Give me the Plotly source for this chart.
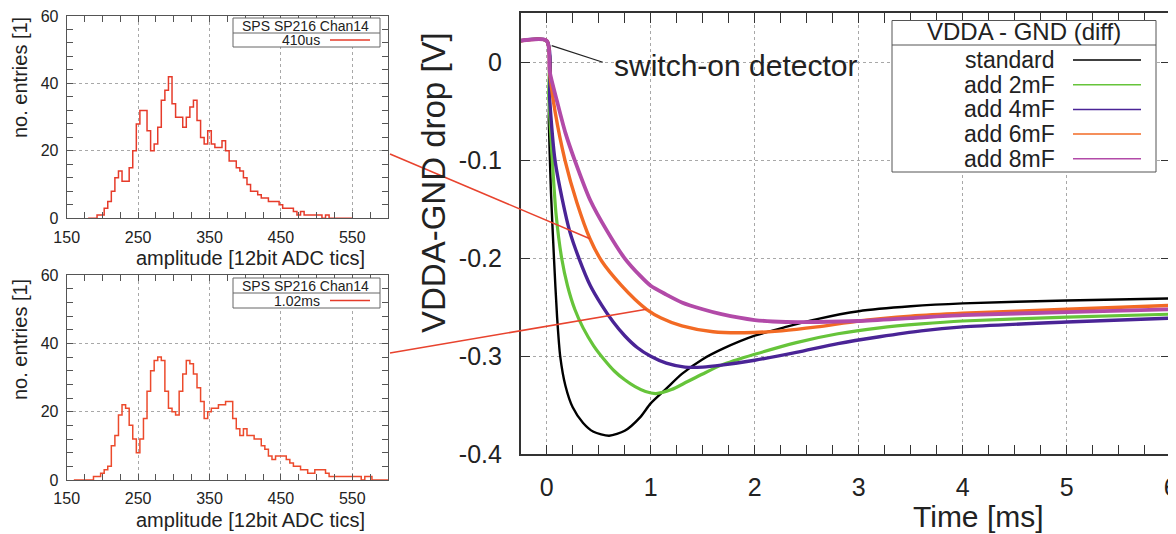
import plotly.graph_objects as go

# window size and the page's default body margin (the figure is drawn offset by it)
W, H = 1176, 534
OFF = 8
FW, FH = W - OFF, H - OFF

# ---------------- histogram data (amplitude bin centres, counts) ----------------
amp_top = list(range(180, 555, 5))
cnt_top = [0, 0, 0, 1, 1, 3, 5, 8, 12, 14, 11, 11, 15, 20, 28, 32, 32, 26, 20, 22,
           27, 35, 38, 42, 34, 30, 30, 27, 30, 33, 35, 29, 24, 22, 26, 22, 21, 21, 23, 20,
           17, 17, 15, 14, 12, 10, 8, 8, 7, 6, 6, 5, 5, 5, 4, 3, 3, 3, 2, 1,
           2, 1, 1, 1, 1, 1, 0, 1, 0, 0, 0, 0, 0, 0, 0]
amp_bot = list(range(160, 605, 5))
cnt_bot = [0, 0, 0, 0, 0, 0, 1, 1, 2, 3, 4, 10, 13, 19, 22, 21, 16, 12, 8, 12,
           18, 26, 32, 35, 36, 35, 26, 21, 20, 19, 26, 31, 35, 34, 31, 27, 23, 18, 20, 21,
           21, 22, 22, 23, 23, 18, 15, 13, 15, 13, 13, 12, 12, 10, 9, 7, 6, 7, 7, 7,
           6, 5, 4, 4, 3, 3, 2, 2, 3, 3, 3, 2, 1, 1, 1, 1, 1, 1, 1, 1,
           1, 0, 1, 1, 0, 0, 0, 0, 0]
hist_labels = ["410us", "1.02ms"]
hist_title = "SPS SP216 Chan14"

# ---------------- main chart data: time [ms], VDDA-GND drop [V] ----------------
series_names = ["standard", "add 2mF", "add 4mF", "add 6mF", "add 8mF"]
series_colors = ["#000000", "#66c43a", "#4a2496", "#f26a24", "#b24aa8"]

t_std = [-0.25, 0.0, 0.02, 0.04, 0.07, 0.1, 0.13, 0.18, 0.25, 0.35, 0.45, 0.6, 0.75, 0.9,
         1.0, 1.15, 1.3, 1.5, 1.7, 2.0, 2.3, 2.6, 3.0, 3.5, 4.0, 5.0, 6.0]
v_std = [0.022, 0.021, -0.06, -0.13, -0.2, -0.26, -0.3, -0.33, -0.352, -0.368, -0.377, -0.381,
         -0.376, -0.362, -0.348, -0.333, -0.318, -0.303, -0.292, -0.279, -0.27, -0.262,
         -0.254, -0.249, -0.246, -0.243, -0.241]

t_2mf = [-0.25, 0.0, 0.02, 0.054, 0.09, 0.144, 0.2, 0.27, 0.35, 0.45, 0.55, 0.65, 0.75, 0.85,
         0.95, 1.05, 1.2, 1.35, 1.5, 1.68, 2.0, 2.4, 2.8, 3.2, 3.6, 4.0, 5.0, 6.0]
v_2mf = [0.022, 0.022, -0.035, -0.1, -0.155, -0.2, -0.228, -0.252, -0.271, -0.289, -0.303,
         -0.315, -0.324, -0.331, -0.336, -0.338, -0.334, -0.326, -0.318, -0.309, -0.298,
         -0.286, -0.277, -0.271, -0.267, -0.264, -0.26, -0.257]

t_4mf = [-0.25, 0.0, 0.03, 0.08, 0.15, 0.22, 0.31, 0.42, 0.53, 0.64, 0.75, 0.87, 1.0, 1.15,
         1.33, 1.5, 1.68, 2.0, 2.4, 2.8, 3.2, 3.6, 4.0, 5.0, 6.0]
v_4mf = [0.022, 0.022, -0.04, -0.1, -0.14, -0.172, -0.2, -0.228, -0.248, -0.265, -0.279,
         -0.291, -0.3, -0.307, -0.311, -0.311, -0.309, -0.304, -0.296, -0.287, -0.28,
         -0.274, -0.27, -0.265, -0.261]

t_6mf = [-0.25, 0.0, 0.03, 0.08, 0.176, 0.29, 0.416, 0.53, 0.72, 0.85, 0.96, 1.1, 1.3, 1.6,
         1.9, 2.26, 2.6, 3.0, 3.5, 4.0, 5.0, 6.0]
v_6mf = [0.022, 0.022, -0.012, -0.05, -0.1, -0.143, -0.18, -0.203, -0.228, -0.242, -0.252,
         -0.261, -0.269, -0.275, -0.276, -0.274, -0.27, -0.264, -0.259, -0.256, -0.252, -0.248]

t_8mf = [-0.25, 0.0, 0.03, 0.1, 0.18, 0.27, 0.42, 0.58, 0.75, 0.9, 1.0, 1.15, 1.3, 1.5, 1.68,
         2.0, 2.3, 2.6, 3.0, 3.5, 4.0, 5.0, 6.0]
v_8mf = [0.022, 0.022, -0.01, -0.04, -0.072, -0.1, -0.141, -0.172, -0.2, -0.218, -0.228,
         -0.237, -0.245, -0.252, -0.257, -0.263, -0.265, -0.265, -0.264, -0.261, -0.258,
         -0.255, -0.252]

series_t = [t_std, t_2mf, t_4mf, t_6mf, t_8mf]
series_v = [v_std, v_2mf, v_4mf, v_6mf, v_8mf]
series_w = [2.4, 3.2, 3.4, 3.4, 3.8]

x_ticks = [0, 1, 2, 3, 4, 5, 6]
y_ticks = [-0.4, -0.3, -0.2, -0.1, 0.0]
y_ticktext = ["-0.4", "-0.3", "-0.2", "-0.1", "0"]
hist_xticks = [150, 250, 350, 450, 550]

# ---------------- layout helpers (window pixels -> paper fractions) ----------------
def px(x):
    return (x - OFF) / FW


def py(y):
    return 1 - (y - OFF) / FH


FONT = "Arial, Liberation Sans, sans-serif"
HIST_RED = "#e63b2a"
LINK_RED = "#e8432e"

top_dom_x = [px(66.7), px(388)]
top_dom_y = [py(218.3), py(16)]
bot_dom_y = [py(480), py(275)]
main_dom_x = [px(520.7), px(1170.7)]
main_dom_y = [py(454.3), py(13.3)]
main_xr = [-0.25, 6]
main_yr = [-0.4, 0.05]

fig = go.Figure()

fig.add_trace(go.Scatter(x=amp_top, y=cnt_top, mode="lines", xaxis="x", yaxis="y",
                         line=dict(shape="hvh", color=HIST_RED, width=1.5), showlegend=False))
fig.add_trace(go.Scatter(x=amp_bot, y=cnt_bot, mode="lines", xaxis="x2", yaxis="y2",
                         line=dict(shape="hvh", color="#ec4a2c", width=1.5), showlegend=False))

for name, tt, vv, col, w in zip(series_names, series_t, series_v, series_colors, series_w):
    fig.add_trace(go.Scatter(x=tt, y=vv, mode="lines", name=name, xaxis="x3", yaxis="y3",
                             line=dict(color=col, width=w, shape="spline", smoothing=0.7),
                             showlegend=False))

grid = dict(showgrid=True, gridcolor="#a8a8a8", griddash="dot", gridwidth=1, zeroline=False,
            automargin=False, ticklabeloverflow="allow")


def hist_x(anchor, dom):
    return dict(domain=dom, anchor=anchor, range=[150, 600], tickvals=hist_xticks,
                ticks="inside", ticklen=6, tickcolor="#555",
                minor=dict(dtick=25, tick0=150, ticks="inside", ticklen=6, tickcolor="#555", showgrid=False),
                showline=True, linecolor="#555", linewidth=1, mirror="ticks",
                tickfont=dict(family=FONT, size=16, color="#222"), ticklabelstandoff=4, **grid)


def hist_y(anchor, dom):
    return dict(domain=dom, anchor=anchor, range=[0, 60], tickvals=[0, 20, 40, 60],
                ticks="inside", ticklen=6, tickcolor="#555",
                minor=dict(dtick=4, tick0=0, ticks="inside", ticklen=6, tickcolor="#555", showgrid=False),
                showline=True, linecolor="#555", linewidth=1, mirror="ticks",
                tickfont=dict(family=FONT, size=16, color="#222"), ticklabelstandoff=4, **grid)


fig.update_layout(
    width=FW, height=FH, margin=dict(l=0, r=0, t=0, b=0, autoexpand=False),
    paper_bgcolor="white", plot_bgcolor="white",
    font=dict(family=FONT, color="#222"),
    xaxis=hist_x("y", top_dom_x),
    yaxis=hist_y("x", top_dom_y),
    xaxis2=hist_x("y2", top_dom_x),
    yaxis2=hist_y("x2", bot_dom_y),
    xaxis3=dict(domain=main_dom_x, anchor="y3", range=main_xr, tickvals=x_ticks,
                ticks="inside", ticklen=10, tickcolor="#333",
                minor=dict(dtick=0.25, tick0=0, ticks="inside", ticklen=10, tickcolor="#333", showgrid=False),
                showline=True, linecolor="#333", linewidth=1.5, mirror="ticks",
                tickfont=dict(family=FONT, size=25, color="#222"), ticklabelstandoff=10, **grid),
    yaxis3=dict(domain=main_dom_y, anchor="x3", range=main_yr, tickvals=y_ticks, ticktext=y_ticktext,
                ticks="inside", ticklen=10, tickcolor="#333",
                showline=True, linecolor="#333", linewidth=1.5, mirror="ticks",
                tickfont=dict(family=FONT, size=25, color="#222"), ticklabelstandoff=12, **grid),
)

ann = []
shapes = []


def text(x, y, s, size, xanchor="center", yanchor="middle", angle=0, color="#222"):
    ann.append(dict(x=x, y=y, xref="paper", yref="paper", text=s, showarrow=False,
                    xanchor=xanchor, yanchor=yanchor, textangle=angle,
                    font=dict(family=FONT, size=size, color=color)))


# axis titles
text(px(20), py(78), "no. entries [1]", 20, angle=-90)
text(px(20), py(340), "no. entries [1]", 20, angle=-90)
text(px(250), py(258), "amplitude [12bit ADC tics]", 20)
text(px(250), py(520), "amplitude [12bit ADC tics]", 20)
text(px(433), py(183), "VDDA-GND drop [V]", 33, angle=-90)
text(px(978), py(516), "Time [ms]", 30)
text(px(612), py(66), "switch-on detector", 30, xanchor="left")

# switch-on pointer
shapes.append(dict(type="line", xref="x3", yref="y3", x0=0.048, y0=0.017, x1=0.54, y1=0.0,
                   line=dict(color="#222", width=1.2)))

# histogram legends
for (y0, y1, ysep, lab) in [(18, 47, 33, hist_labels[0]), (278, 308, 293, hist_labels[1])]:
    shapes.append(dict(type="rect", xref="paper", yref="paper", x0=px(233), x1=px(380), y0=py(y1), y1=py(y0),
                       fillcolor="white", line=dict(color="#666", width=1)))
    shapes.append(dict(type="line", xref="paper", yref="paper", x0=px(233), x1=px(380), y0=py(ysep), y1=py(ysep),
                       line=dict(color="#666", width=1)))
    text(px(305), py((y0 + ysep) / 2), hist_title, 14)
    text(px(322), py((ysep + y1) / 2), lab, 14, xanchor="right")
    shapes.append(dict(type="line", xref="paper", yref="paper", x0=px(330), x1=px(370),
                       y0=py((ysep + y1) / 2), y1=py((ysep + y1) / 2), line=dict(color=HIST_RED, width=1.5)))

# main legend
shapes.append(dict(type="rect", xref="paper", yref="paper", x0=px(892), x1=px(1156), y0=py(172), y1=py(20.5),
                   fillcolor="white", line=dict(color="#555", width=1)))
shapes.append(dict(type="line", xref="paper", yref="paper", x0=px(892), x1=px(1156), y0=py(45), y1=py(45),
                   line=dict(color="#555", width=1)))
text(px(1024), py(32), "VDDA - GND (diff)", 24)
for i, (name, col) in enumerate(zip(series_names, series_colors)):
    yy = 60 + i * 24.7
    text(px(1057), py(yy), name, 23, xanchor="right")
    shapes.append(dict(type="line", xref="paper", yref="paper", x0=px(1073), x1=px(1141), y0=py(yy), y1=py(yy),
                       line=dict(color=col, width=1.5)))


# connectors from histograms to the 6mF curve at the sampling times
def data_to_paper(t, v):
    xp = main_dom_x[0] + (t - main_xr[0]) / (main_xr[1] - main_xr[0]) * (main_dom_x[1] - main_dom_x[0])
    yp = main_dom_y[0] + (v - main_yr[0]) / (main_yr[1] - main_yr[0]) * (main_dom_y[1] - main_dom_y[0])
    return xp, yp


for (ty, idx) in [(154, 6), (353, 10)]:
    xe, ye = data_to_paper(t_6mf[idx], v_6mf[idx])
    shapes.append(dict(type="line", xref="paper", yref="paper", x0=px(390), y0=py(ty), x1=xe, y1=ye,
                       line=dict(color=LINK_RED, width=1.5)))

fig.update_layout(annotations=ann, shapes=shapes)
fig.write_html("out.html")
